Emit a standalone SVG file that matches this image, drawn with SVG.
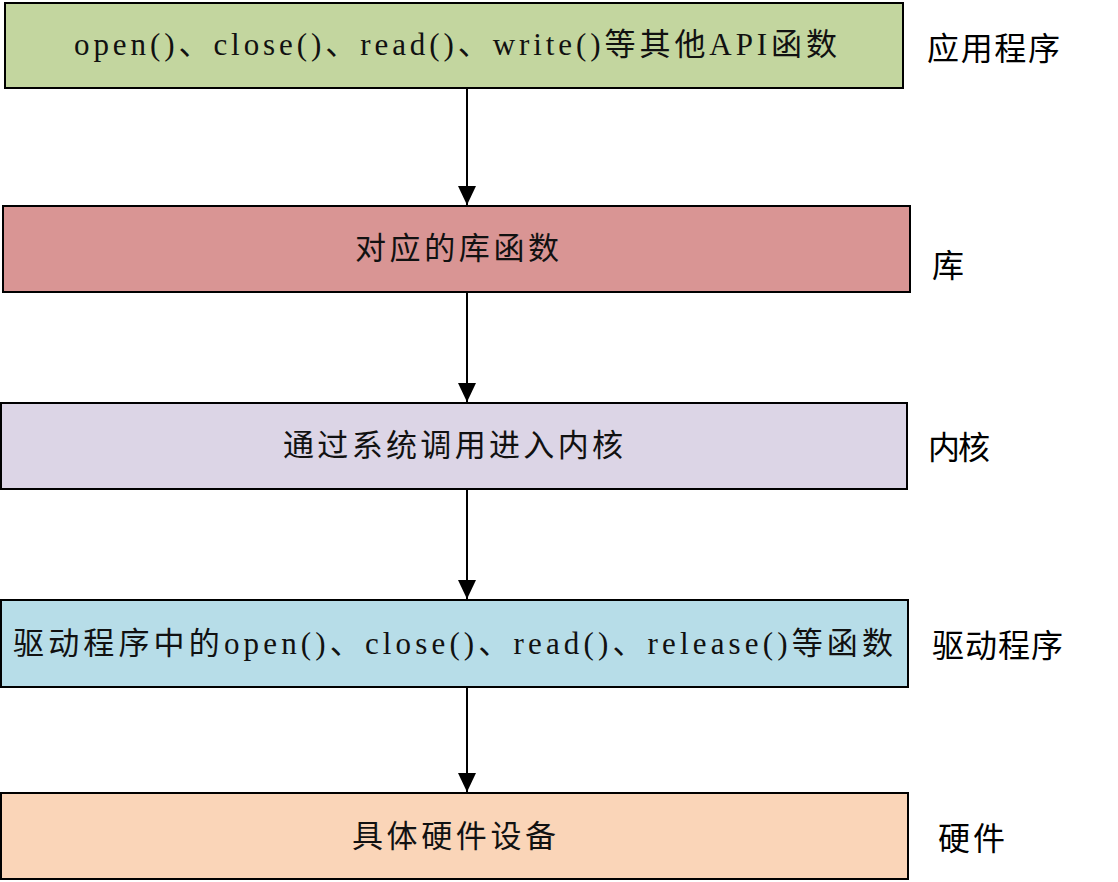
<svg xmlns="http://www.w3.org/2000/svg" width="1118" height="882" viewBox="0 0 1118 882">
<style>
.box{stroke:#000;stroke-width:2}
.t{font-family:"Liberation Serif","Noto Sans CJK SC",serif;font-size:31px;fill:#111;dominant-baseline:central}
.lbl{font-family:"Noto Sans CJK SC","Noto Sans CJK JP",sans-serif;font-size:32px;fill:#000;dominant-baseline:central}
.conn{stroke:#000;stroke-width:2;fill:none}
</style>
<defs>
<marker id="arr" markerUnits="userSpaceOnUse" markerWidth="20" markerHeight="18" refX="19" refY="9" orient="auto" viewBox="0 0 19 18">
<path d="M0,0 L19,9 L0,18 Z" fill="#000"/>
</marker>
</defs>
<rect width="1118" height="882" fill="#fff"/>
<g id="connectors">
<line class="conn" x1="467" y1="88" x2="467" y2="205" marker-end="url(#arr)"/>
<line class="conn" x1="467" y1="292" x2="467" y2="402" marker-end="url(#arr)"/>
<line class="conn" x1="467" y1="489" x2="467" y2="599" marker-end="url(#arr)"/>
<line class="conn" x1="467" y1="687" x2="467" y2="792" marker-end="url(#arr)"/>
</g>
<g id="node-app">
<rect class="box" x="5" y="3" width="898" height="85" fill="#C3D69F"/>
<text class="t" x="74" y="44" textLength="763" lengthAdjust="spacing">open()、close()、read()、write()等其他API函数</text>
</g>
<g id="node-lib">
<rect class="box" x="3" y="206" width="907" height="86" fill="#D99594"/>
<text class="t" x="355" y="248" textLength="204" lengthAdjust="spacing">对应的库函数</text>
</g>
<g id="node-kernel">
<rect class="box" x="1" y="403" width="906" height="86" fill="#DCD5E6"/>
<text class="t" x="283" y="445" textLength="340" lengthAdjust="spacing">通过系统调用进入内核</text>
</g>
<g id="node-driver">
<rect class="box" x="1" y="600" width="907" height="87" fill="#B7DDE8"/>
<text class="t" x="13" y="643" textLength="880" lengthAdjust="spacing">驱动程序中的open()、close()、read()、release()等函数</text>
</g>
<g id="node-hw">
<rect class="box" x="1" y="793" width="907" height="86" fill="#FAD5B8"/>
<text class="t" x="352" y="836" textLength="204" lengthAdjust="spacing">具体硬件设备</text>
</g>
<g id="labels">
<text class="lbl" x="927" y="46" textLength="133" lengthAdjust="spacing">应用程序</text>
<text class="lbl" x="932" y="263">库</text>
<text class="lbl" x="928" y="445" textLength="62" lengthAdjust="spacing">内核</text>
<text class="lbl" x="932" y="643" textLength="131" lengthAdjust="spacing">驱动程序</text>
<text class="lbl" x="938" y="836" textLength="67" lengthAdjust="spacing">硬件</text>
</g>
</svg>
